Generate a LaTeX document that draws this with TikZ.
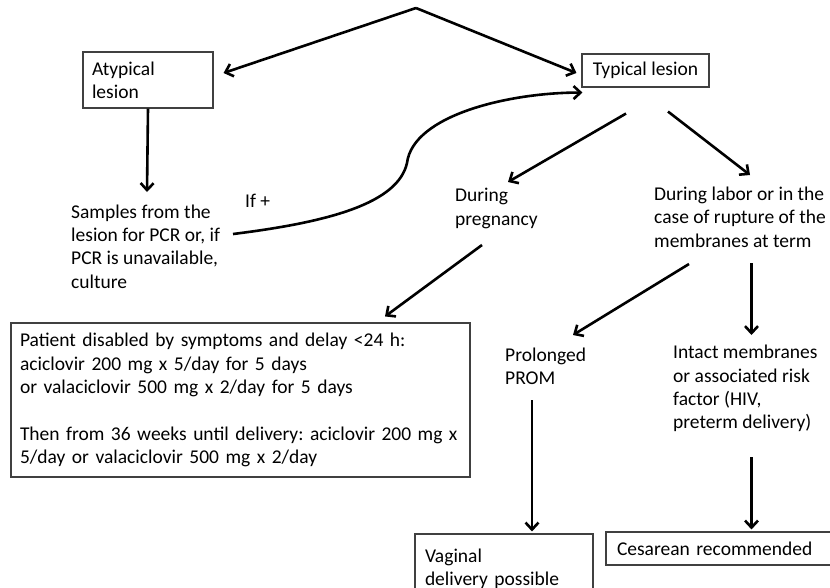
\documentclass[tikz,border=0pt]{standalone}
\usepackage{fontspec}
\setmainfont{Carlito}
\frenchspacing
\usetikzlibrary{arrows.meta,calc}
\begin{document}
\begin{tikzpicture}[x=1pt,y=-1pt,
  every node/.style={font=\fontsize{19.5}{23.3}\selectfont, inner sep=0pt},
  box/.style={draw=black!75, line width=1.1pt},
  txt/.style={anchor=west, align=left},
  arr/.style={line width=2.6pt, -{Straight Barb[length=7pt,width=13pt]}}]
\useasboundingbox (0,0) rectangle (830,587);
% boxes
\node[box, minimum width=130pt, minimum height=56pt, text width=112pt, align=left] (atyp) at (148,80) {Atypical\\lesion};
\node[box, minimum width=127pt, minimum height=33pt] (typ) at (645.5,70.5) {Typical lesion};
\node[box, minimum width=459pt, minimum height=154pt, text width=441pt, align=left] (big) at (240.5,400)
  {Patient disabled by symptoms and delay <24 h:\\
   aciclovir 200 mg x 5/day for 5 days\\
   or valaciclovir 500 mg x 2/day for 5 days\\[23.3pt]
   \mbox{Then from 36 weeks until delivery: aciclovir 200 mg x}\\
   5/day or valaciclovir 500 mg x 2/day};
\node[box, minimum width=178pt, minimum height=70pt, text width=158pt, align=left] (vag) at (504,569) {Vaginal\\delivery possible};
\node[box, minimum width=229pt, minimum height=33pt, text width=207pt, align=left] (ces) at (720.5,548.5) {Cesarean recommended};
% free texts
\node[txt] (samples) at (71,246.5) {Samples from the\\lesion for PCR or, if\\PCR is unavailable,\\culture};
\node[txt] (ifplus) at (245,201) {If +};
\node[txt] (preg) at (455,208.5) {During\\pregnancy};
\node[txt] (labor) at (654,217) {During labor or in the\\case of rupture of the\\membranes at term};
\node[txt] (prom) at (505,366.5) {Prolonged\\PROM};
\node[txt] (intact) at (673,388.5) {Intact membranes\\or associated risk\\factor (HIV,\\preterm delivery)};
\coordinate (apex) at (416,8);
% connectors
\draw[arr] (apex) -- ($(atyp.east)+(10,-7)$);
\draw[arr] (apex) -- ($(typ.west)+(-5,2.5)$);
\draw[arr] (atyp.south) -- ($(samples.west)+(76,-54.5)$);
\draw[arr] ($(samples.west)+(162,-12.5)$) .. controls +(97,-12) and +(-9,40) .. ($(samples.west)+(336,-83.5)$)
  .. controls +(6,-48) and +(-73,0) .. ($(typ.south west)+(1,5)$);
\draw[arr] ($(typ.south)+(-19.5,26)$) -- ($(preg.west)+(53,-26.5)$);
\draw[arr] ($(typ.south)+(22.5,24)$) -- ($(labor.west)+(96,-42)$);
\draw[arr] ($(preg.west)+(27,36.5)$) -- ($(big.north)+(144.5,-6)$);
\draw[arr] ($(labor.west)+(35,47)$) -- ($(prom.west)+(68,-31.5)$);
\draw[arr] ($(labor.west)+(97.5,46)$) -- ($(intact.west)+(78.5,-53.5)$);
\draw[arr] ($(prom.west)+(27,33.5)$) -- ($(vag.north)+(28,-2)$);
\draw[arr] ($(intact.west)+(78.5,68.5)$) -- ($(ces.north)+(31,-2)$);
\end{tikzpicture}
\end{document}
